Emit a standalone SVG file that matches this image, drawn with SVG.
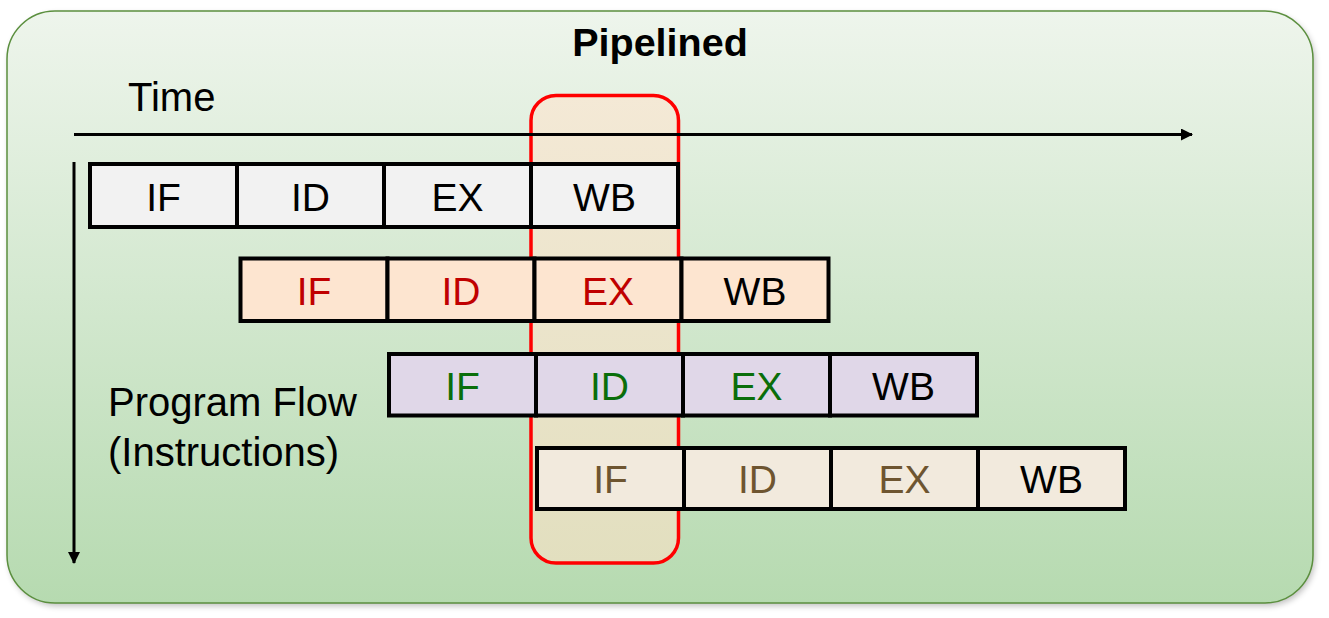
<svg xmlns="http://www.w3.org/2000/svg" width="1329" height="618" viewBox="0 0 1329 618">
<defs>
<linearGradient id="bg" x1="0" y1="0" x2="0" y2="1">
<stop offset="0" stop-color="#eef5ec"/>
<stop offset="1" stop-color="#b6dab0"/>
</linearGradient>
<linearGradient id="hl" x1="0" y1="0" x2="0" y2="1">
<stop offset="0" stop-color="#f4e9d6"/>
<stop offset="1" stop-color="#e2dfbf"/>
</linearGradient>
<filter id="sh" x="-5%" y="-5%" width="110%" height="115%">
<feGaussianBlur stdDeviation="3"/>
</filter>
<marker id="ah" viewBox="0 0 12 12" refX="11" refY="6" markerWidth="12" markerHeight="12" markerUnits="userSpaceOnUse" orient="auto">
<path d="M0,0 L12,6 L0,12 Z" fill="#000"/>
</marker>
</defs>
<style>
text{font-family:"Liberation Sans",Arial,sans-serif;}
.lbl{font-size:40px;fill:#000;}
.cell{stroke:#000;stroke-width:4;}
.ct{font-size:39px;text-anchor:middle;}
.r1{fill:#f2f2f2;} .t1{fill:#000;}
.r2{fill:#fde5d0;} .t2{fill:#c00000;}
.r3{fill:#e0d7e8;} .t3{fill:#0a6e0a;}
.r4{fill:#f2eadd;} .t4{fill:#6e5530;}
.ax{stroke:#000;stroke-width:3;fill:none;}
</style>
<rect x="9" y="14" width="1306" height="592" rx="48" fill="#000" opacity="0.25" filter="url(#sh)"/>
<rect id="panel" x="7" y="11" width="1306" height="592" rx="48" fill="url(#bg)" stroke="#5b8f3e" stroke-width="1.5"/>
<text x="660" y="56" text-anchor="middle" style="font-size:39.5px;font-weight:bold">Pipelined</text>
<text class="lbl" x="128" y="111">Time</text>
<text class="lbl" x="108" y="416">Program Flow</text>
<text class="lbl" x="108" y="466">(Instructions)</text>
<g id="highlight">
<rect x="531" y="95.5" width="147.5" height="467.5" rx="25" fill="url(#hl)" stroke="#ff0000" stroke-width="3.5"/>
</g>
<g id="connectors">
<line class="ax" x1="74" y1="134.5" x2="1192" y2="134.5" marker-end="url(#ah)"/>
<line class="ax" x1="74" y1="162" x2="74" y2="563" marker-end="url(#ah)"/>
</g>
<g id="instr1">
<rect class="cell r1" x="90" y="164" width="147" height="63"/>
<rect class="cell r1" x="237" y="164" width="147" height="63"/>
<rect class="cell r1" x="384" y="164" width="147" height="63"/>
<rect class="cell r1" x="531" y="164" width="147" height="63"/>
<text class="ct t1" x="163.5" y="210.5">IF</text>
<text class="ct t1" x="310.5" y="210.5">ID</text>
<text class="ct t1" x="457.5" y="210.5">EX</text>
<text class="ct t1" x="604.5" y="210.5">WB</text>
</g>
<g id="instr2">
<rect class="cell r2" x="240.5" y="258.5" width="147" height="62.5"/>
<rect class="cell r2" x="387.5" y="258.5" width="147" height="62.5"/>
<rect class="cell r2" x="534.5" y="258.5" width="147" height="62.5"/>
<rect class="cell r2" x="681.5" y="258.5" width="147" height="62.5"/>
<text class="ct t2" x="314" y="304.5">IF</text>
<text class="ct t2" x="461" y="304.5">ID</text>
<text class="ct t2" x="608" y="304.5">EX</text>
<text class="ct t1" x="755" y="304.5">WB</text>
</g>
<g id="instr3">
<rect class="cell r3" x="389" y="354" width="147" height="61.5"/>
<rect class="cell r3" x="536" y="354" width="147" height="61.5"/>
<rect class="cell r3" x="683" y="354" width="147" height="61.5"/>
<rect class="cell r3" x="830" y="354" width="147" height="61.5"/>
<text class="ct t3" x="462.5" y="399.5">IF</text>
<text class="ct t3" x="609.5" y="399.5">ID</text>
<text class="ct t3" x="756.5" y="399.5">EX</text>
<text class="ct t1" x="903.5" y="399.5">WB</text>
</g>
<g id="instr4">
<rect class="cell r4" x="537" y="448" width="147" height="61"/>
<rect class="cell r4" x="684" y="448" width="147" height="61"/>
<rect class="cell r4" x="831" y="448" width="147" height="61"/>
<rect class="cell r4" x="978" y="448" width="147" height="61"/>
<text class="ct t4" x="610.5" y="493">IF</text>
<text class="ct t4" x="757.5" y="493">ID</text>
<text class="ct t4" x="904.5" y="493">EX</text>
<text class="ct t1" x="1051.5" y="493">WB</text>
</g>
</svg>
